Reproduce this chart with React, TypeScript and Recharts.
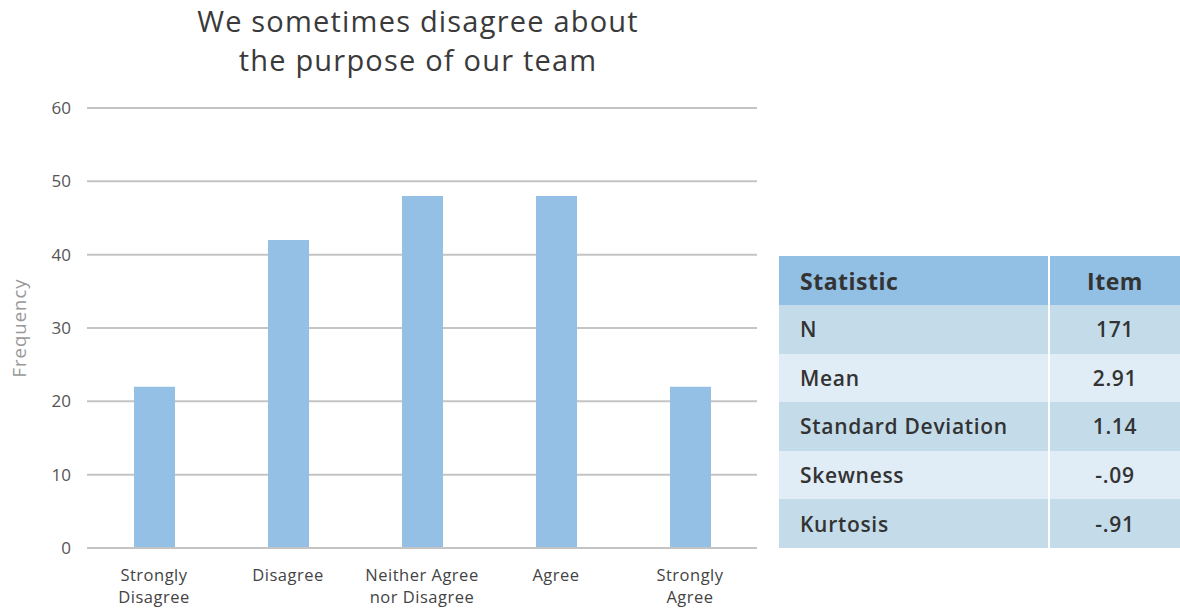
import { BarChart, Bar, XAxis, YAxis, CartesianGrid } from 'recharts'

const categories = ['Strongly Disagree', 'Disagree', 'Neither Agree nor Disagree', 'Agree', 'Strongly Agree']
const tickLines = [['Strongly', 'Disagree'], ['Disagree'], ['Neither Agree', 'nor Disagree'], ['Agree'], ['Strongly', 'Agree']]
const frequency = [22, 42, 48, 48, 22]
const yTicks = [0, 10, 20, 30, 40, 50, 60]

const statLabels = ['N', 'Mean', 'Standard Deviation', 'Skewness', 'Kurtosis']
const statValues = ['171', '2.91', '1.14', '-.09', '-.91']

const data = categories.map((c, i) => ({ name: c, value: frequency[i] }))

const FONT = '"Open Sans", sans-serif'

function CategoryTick(props: any) {
    const { x, y, index } = props
    const lines = tickLines[index] || []
    return (
        <g>
            {lines.map((l, i) => (
                <text key={i} x={x} y={y + 25 + i * 22} textAnchor="middle" fontSize={16.5} letterSpacing={0.5} fill="#444" fontFamily={FONT}>{l}</text>
            ))}
        </g>
    )
}

export default function App() {
    const rowColors = ['#c4dcea', '#e0ecf6']
    return (
        <div style={{ position: 'absolute', left: 0, top: 0, width: 1180, height: 609, background: '#fff', fontFamily: FONT }}>
            <div style={{ position: 'absolute', left: 118, width: 600, top: 1, textAlign: 'center', fontSize: 29, lineHeight: '39px', letterSpacing: 1.2, color: '#3a3a3a', fontWeight: 400 }}>
                We sometimes disagree about<br />the purpose of our team
            </div>
            <div style={{ position: 'absolute', left: 0, top: 0 }}>
                <BarChart width={757} height={609} data={data} margin={{ top: 108, right: 0, bottom: 0, left: 0 }}>
                    <CartesianGrid vertical={false} stroke="#c4c4c4" strokeWidth={2} />
                    <XAxis dataKey="name" height={61} tickLine={false} axisLine={{ stroke: '#c4c4c4', strokeWidth: 2 }} tick={<CategoryTick />} interval={0} />
                    <YAxis width={87} domain={[0, 60]} ticks={yTicks} tickLine={false} axisLine={false} tickSize={0} tickMargin={16}
                        tick={{ fontSize: 17, fill: '#555', fontFamily: FONT }}
                        label={{ value: 'Frequency', angle: -90, position: 'insideLeft', offset: 19, style: { fontSize: 18.5, fill: '#999', fontFamily: FONT, textAnchor: 'middle', letterSpacing: 1 } }} />
                    <Bar dataKey="value" fill="#94c0e5" barSize={41} isAnimationActive={false} />
                </BarChart>
            </div>
            <div style={{ position: 'absolute', left: 779, top: 256, width: 401 }}>
                <div style={{ display: 'flex', height: 49, background: '#92bfe4', color: '#333', fontWeight: 700, fontSize: 23, letterSpacing: 0.5, alignItems: 'center' }}>
                    <div style={{ width: 269, paddingLeft: 21, boxSizing: 'border-box' }}>Statistic</div>
                    <div style={{ width: 2, alignSelf: 'stretch', background: '#fff' }} />
                    <div style={{ width: 130, textAlign: 'center' }}>Item</div>
                </div>
                {statLabels.map((s, i) => (
                    <div key={s} style={{ display: 'flex', height: 48.6, background: rowColors[i % 2], color: '#333', fontWeight: 600, fontSize: 21, letterSpacing: 0.7, alignItems: 'center' }}>
                        <div style={{ width: 269, paddingLeft: 21, boxSizing: 'border-box' }}>{s}</div>
                        <div style={{ width: 2, alignSelf: 'stretch', background: '#fff' }} />
                        <div style={{ width: 130, textAlign: 'center' }}>{statValues[i]}</div>
                    </div>
                ))}
            </div>
        </div>
    )
}
